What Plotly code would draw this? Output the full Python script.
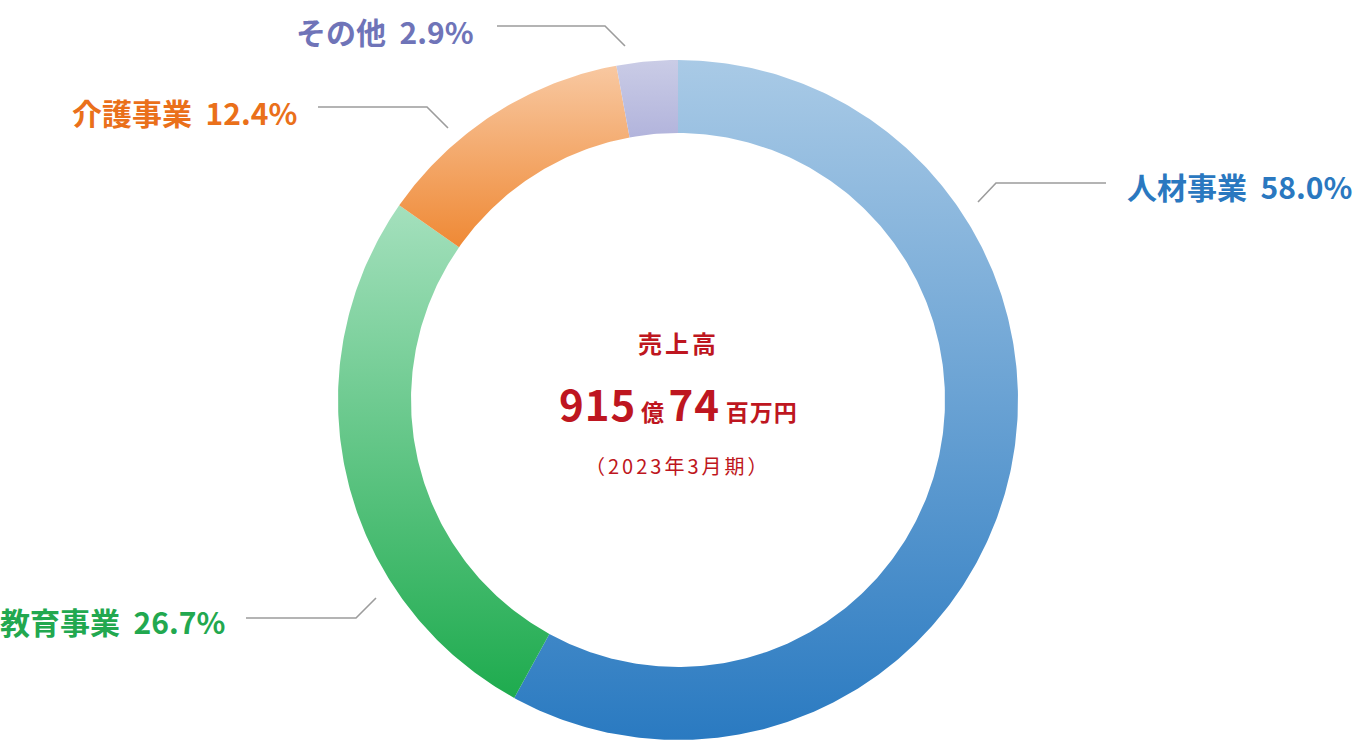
import numpy as np
import plotly.graph_objects as go

# ---- data ----
segments = ["人材事業", "教育事業", "介護事業", "その他"]
shares = [58.0, 26.7, 12.4, 2.9]
top_colors = ["#a9cae6", "#a4e0bd", "#f8c8a1", "#cacce6"]
bottom_colors = ["#2a7ac1", "#1eab4e", "#ef8935", "#b2b4dc"]
label_colors = ["#2a78c0", "#22a84f", "#ea701a", "#6f74b8"]
center_title = "売上高"
center_amount = ["915", "億", "74", "百万円"]
center_period = "（2023年3月期）"

W, H = 1356, 740
CX, CY = 678, H - 400   # donut centre in axis units (1 unit = 1 px)
R_OUT, R_IN = 340, 267
FONT = "Noto Sans CJK JP"

fig = go.Figure()

total = sum(shares)
start = 0.0
for name, v, c_top, c_bot in zip(segments, shares, top_colors, bottom_colors):
    a0 = start / total * 2 * np.pi
    a1 = (start + v) / total * 2 * np.pi
    start += v
    t = np.linspace(a0, a1, max(8, int(v * 6)))
    xo = CX + R_OUT * np.sin(t)
    yo = CY + R_OUT * np.cos(t)
    xi = CX + R_IN * np.sin(t[::-1])
    yi = CY + R_IN * np.cos(t[::-1])
    xs = np.concatenate([xo, xi, xo[:1]])
    ys = np.concatenate([yo, yi, yo[:1]])
    fig.add_trace(go.Scatter(
        x=xs, y=ys, mode="lines", fill="toself", name=name,
        line=dict(width=0, color=c_bot),
        fillgradient=dict(type="vertical",
                          colorscale=[[0, c_bot], [1, c_top]]),
        hoverinfo="skip", showlegend=False,
    ))

# ---- outside labels ----
labels = [
    (f"{segments[0]}\u00a0\u00a0{shares[0]:.1f}%", 1125, H - 186, "left"),
    (f"{segments[1]}\u00a0\u00a0{shares[1]:.1f}%", 227, H - 621, "right"),
    (f"{segments[2]}\u00a0\u00a0{shares[2]:.1f}%", 299, H - 112, "right"),
    (f"{segments[3]}\u00a0\u00a0{shares[3]:.1f}%", 476, H - 31, "right"),
]
for (txt, x, y, anc), col in zip(labels, label_colors):
    fig.add_annotation(x=x, y=y, xref="x", yref="y", text=txt, showarrow=False,
                       xanchor=anc, yanchor="middle",
                       font=dict(family=FONT, size=30, color=col, weight=700))

# ---- leader lines ----
leaders = [
    [(978, 202), (996, 183), (1106, 183)],
    [(246, 618), (356, 618), (376, 598)],
    [(318, 107), (427, 107), (448, 128)],
    [(497, 26), (605, 26), (625, 46)],
]
for pts in leaders:
    path = "M " + " L ".join(f"{x},{H - y}" for x, y in pts)
    fig.add_shape(type="path", path=path, xref="x", yref="y",
                  line=dict(color="#9c9c9c", width=1.6))

# ---- centre text ----
RED = "#be1620"
fig.add_annotation(x=CX, y=H - 342, xref="x", yref="y",
                   text=f'<span style="letter-spacing:3px">{center_title}</span>',
                   showarrow=False, xanchor="center", yanchor="middle",
                   font=dict(family=FONT, size=24, color=RED, weight=700))
amount_html = (
    f'<span style="font-size:42px;letter-spacing:1px">{center_amount[0]}</span>'
    f'<span style="font-size:23px">\u2009{center_amount[1]}\u2009</span>'
    f'<span style="font-size:42px;letter-spacing:1px">{center_amount[2]}</span>'
    f'<span style="font-size:23px;letter-spacing:1px">\u2009{center_amount[3]}</span>'
)
fig.add_annotation(x=CX, y=H - 402, xref="x", yref="y", text=amount_html,
                   showarrow=False, xanchor="center", yanchor="middle",
                   font=dict(family=FONT, size=23, color=RED, weight=700))
fig.add_annotation(x=CX, y=H - 465, xref="x", yref="y",
                   text=f'<span style="letter-spacing:3px">{center_period}</span>',
                   showarrow=False, xanchor="center", yanchor="middle",
                   font=dict(family=FONT, size=20, color=RED, weight=400))

fig.update_layout(
    width=W, height=H, autosize=False,
    margin=dict(l=0, r=0, t=0, b=0),
    paper_bgcolor="white", plot_bgcolor="white",
    xaxis=dict(range=[0, W], visible=False, fixedrange=True),
    yaxis=dict(range=[0, H], visible=False, fixedrange=True),
    showlegend=False,
)

fig.write_html("out.html", include_plotlyjs=True,
               config={"displayModeBar": False},
               post_script="document.body.style.margin='0';document.body.style.overflow='hidden';")
